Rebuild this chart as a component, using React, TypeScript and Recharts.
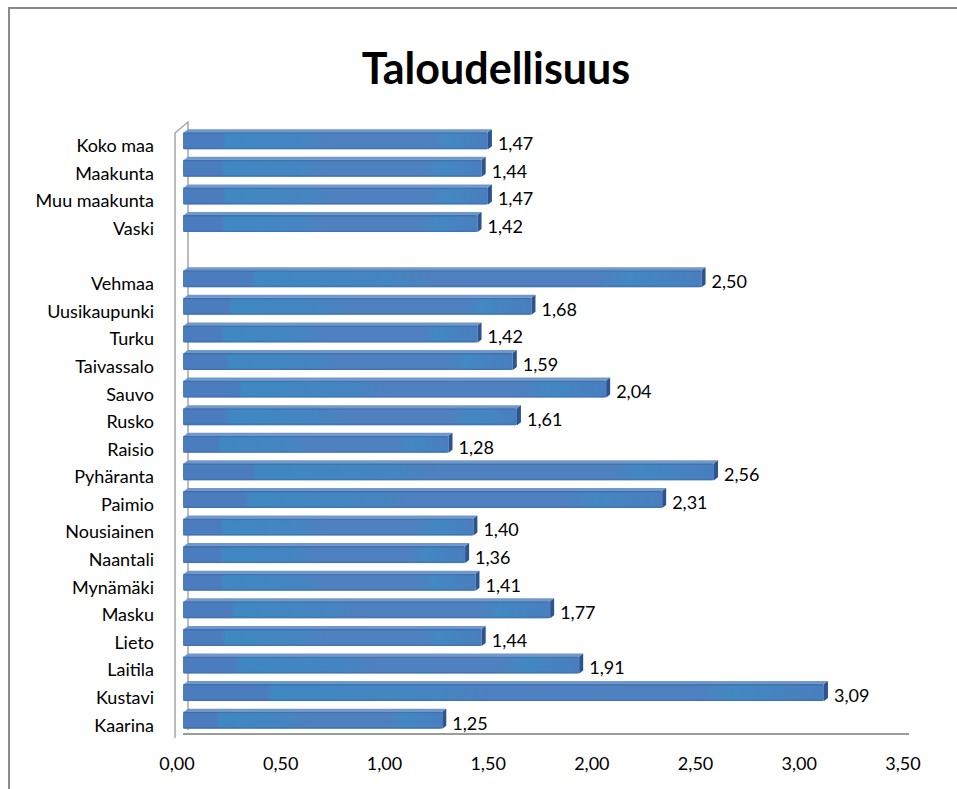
import React from 'react';
import { BarChart, Bar, XAxis, YAxis, LabelList } from 'recharts';

// rows top to bottom, the blank one is the gap between the groups
const areas = [
  'Koko maa', 'Maakunta', 'Muu maakunta', 'Vaski', '',
  'Vehmaa', 'Uusikaupunki', 'Turku', 'Taivassalo', 'Sauvo', 'Rusko', 'Raisio',
  'Pyhäranta', 'Paimio', 'Nousiainen', 'Naantali', 'Mynämäki', 'Masku',
  'Lieto', 'Laitila', 'Kustavi', 'Kaarina',
];
const scores: (number | null)[] = [
  1.47, 1.44, 1.47, 1.42, null,
  2.50, 1.68, 1.42, 1.59, 2.04, 1.61, 1.28,
  2.56, 2.31, 1.40, 1.36, 1.41, 1.77,
  1.44, 1.91, 3.09, 1.25,
];
const xTicks = [0, 0.5, 1, 1.5, 2, 2.5, 3, 3.5];

const data = areas.map((name, i) => ({ name, value: scores[i] }));

const fi = (v: number) => v.toFixed(2).replace('.', ',');
const font = 'Lato, "Open Sans", sans-serif';

const Bar3D = (props: any) => {
  const { x, y, width, height } = props;
  if (!width || width <= 0) return null;
  const d = 4;
  return (
    <g>
      <polygon
        points={`${x + 1},${y} ${x + d + 1},${y - d + 1} ${x + width + d},${y - d + 1} ${x + width},${y}`}
        fill="#7198cb"
      />
      <rect x={x} y={y} width={width} height={height} rx={2} fill="url(#barFill)" />
      <rect x={x} y={y} width={width} height={1.5} fill="#3b67a3" opacity={0.6} />
      <rect x={x} y={y + height - 1.5} width={width} height={1.5} fill="#3a69a8" opacity={0.5} />
      <polygon
        points={`${x + width},${y} ${x + width + d},${y - d + 1} ${x + width + d},${y + height - d + 1} ${x + width},${y + height}`}
        fill="#2c5590"
      />
    </g>
  );
};

export default function App() {
  return (
    <div style={{ position: 'fixed', left: 0, top: 0, width: 957, height: 789, background: '#fff', overflow: 'hidden' }}>
      <div
        style={{
          position: 'absolute', left: 8, top: 7, width: 1000, height: 900,
          borderTop: '2px solid #8a8a8a', borderLeft: '2px solid #8a8a8a',
        }}
      />
      <div
        style={{
          position: 'absolute', left: 0, top: 42, width: 992, textAlign: 'center',
          fontFamily: font, fontWeight: 700, fontSize: 43, color: '#000',
        }}
      >
        Taloudellisuus
      </div>
      <svg style={{ position: 'absolute', left: 0, top: 0 }} width={957} height={789}>
        <polyline points="175,738 175,133 188,122 188,730" fill="none" stroke="#a6a6a6" strokeWidth={1.5} />
      </svg>
      <div style={{ position: 'absolute', left: 0, top: 0 }}>
        <BarChart
          width={957}
          height={789}
          data={data}
          layout="vertical"
          margin={{ top: 127, right: 48, bottom: 25, left: 0 }}
          barCategoryGap="19%"
        >
          <defs>
            <linearGradient id="barFill" x1="0" y1="0" x2="1" y2="0">
              <stop offset="0" stopColor="#4b7cbe" />
              <stop offset="0.13" stopColor="#4b7cbe" />
              <stop offset="0.14" stopColor="#3f88c2" />
              <stop offset="0.4" stopColor="#4585c1" />
              <stop offset="0.48" stopColor="#4f80bf" />
              <stop offset="0.8" stopColor="#4f80bf" />
              <stop offset="0.86" stopColor="#4288c2" />
              <stop offset="1" stopColor="#4a7ebe" />
            </linearGradient>
          </defs>
          <XAxis
            type="number"
            domain={[0, 3.5]}
            ticks={xTicks}
            tickFormatter={fi}
            axisLine={{ stroke: '#9c9c9c', strokeWidth: 2 }}
            tickLine={false}
            tickSize={0}
            tickMargin={23}
            height={30}
            interval={0}
            tick={{ fontFamily: font, fontSize: 18, fill: '#000', dx: -6 }}
          />
          <YAxis
            type="category"
            dataKey="name"
            width={183}
            axisLine={false}
            tickLine={false}
            tickSize={0}
            tickMargin={29}
            interval={0}
            tick={{ fontFamily: font, fontSize: 18, fill: '#000', dy: 5 }}
          />
          <Bar dataKey="value" shape={<Bar3D />} isAnimationActive={false}>
            <LabelList
              dataKey="value"
              position="right"
              offset={10}
              formatter={(v: any) => (v == null ? '' : fi(v))}
              style={{ fontFamily: font, fontSize: 18, fill: '#000' }}
              dy={3}
            />
          </Bar>
        </BarChart>
      </div>
    </div>
  );
}
